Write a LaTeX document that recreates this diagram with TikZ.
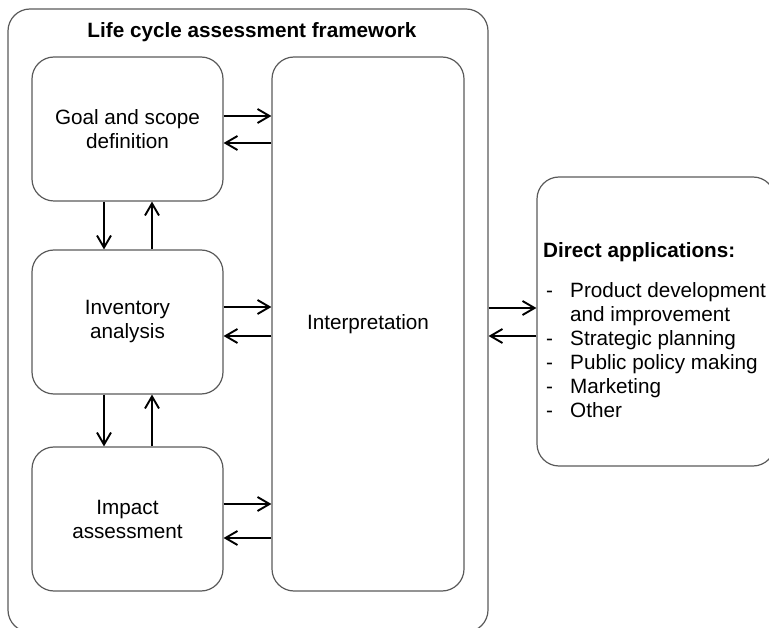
\documentclass[tikz,border=0pt]{standalone}
\usepackage{fontspec}
\setmainfont{Liberation Sans}
\usetikzlibrary{arrows.meta}
\definecolor{boxgray}{HTML}{5A5A5A}
\begin{document}
\begin{tikzpicture}[x=1pt,y=-1pt,
  every node/.style={font=\fontsize{20.7}{24}\selectfont},
  rbox/.style={draw=boxgray,line width=1.2pt,rounded corners=22pt,inner sep=0pt,align=center},
  arr/.style={draw=black,line width=1.9pt,-{Straight Barb[length=12pt,width=14pt,line width=1.9pt]}}]
\useasboundingbox (0,0) rectangle (769,628);
\node[rbox,minimum width=480pt,minimum height=623pt] (frame) at (248,320.5) {};
\node[font=\fontsize{20.7}{24}\selectfont\bfseries] (title) at (252,32) {Life cycle assessment framework};
\node[rbox,minimum width=191pt,minimum height=144pt] (goal) at (127.5,129) {Goal and scope\\definition};
\node[rbox,minimum width=191pt,minimum height=144pt] (inv) at (127.5,322) {Inventory\\analysis};
\node[rbox,minimum width=191pt,minimum height=144pt] (imp) at (127.5,519) {Impact\\assessment};
\node[rbox,minimum width=192pt,minimum height=534pt] (interp) at (368,324) {Interpretation};
\node[rbox,minimum width=238pt,minimum height=289pt] (direct) at (656,321.5) {};
\node[anchor=north west,inner sep=0pt,align=left] (dtext) at (543,242)
 {\textbf{Direct applications:}\\[16pt]
  \makebox[27pt][l]{\hspace*{3pt}-}Product development\\
  \makebox[27pt][l]{}and improvement\\
  \makebox[27pt][l]{\hspace*{3pt}-}Strategic planning\\
  \makebox[27pt][l]{\hspace*{3pt}-}Public policy making\\
  \makebox[27pt][l]{\hspace*{3pt}-}Marketing\\
  \makebox[27pt][l]{\hspace*{3pt}-}Other};
% goal <-> interp
\draw[arr] (goal.east |- 0,116) -- (interp.west |- 0,116);
\draw[arr] (interp.west |- 0,143) -- (goal.east |- 0,143);
\draw[arr] (inv.east |- 0,307) -- (interp.west |- 0,307);
\draw[arr] (interp.west |- 0,336) -- (inv.east |- 0,336);
\draw[arr] (imp.east |- 0,504) -- (interp.west |- 0,504);
\draw[arr] (interp.west |- 0,538) -- (imp.east |- 0,538);
% vertical
\draw[arr] (goal.south -| 104,0) -- (inv.north -| 104,0);
\draw[arr] (inv.north -| 152,0) -- (goal.south -| 152,0);
\draw[arr] (inv.south -| 104,0) -- (imp.north -| 104,0);
\draw[arr] (imp.north -| 152,0) -- (inv.south -| 152,0);
% frame <-> direct
\draw[arr] (frame.east |- 0,308) -- (direct.west |- 0,308);
\draw[arr] (direct.west |- 0,336) -- (frame.east |- 0,336);
\end{tikzpicture}
\end{document}
